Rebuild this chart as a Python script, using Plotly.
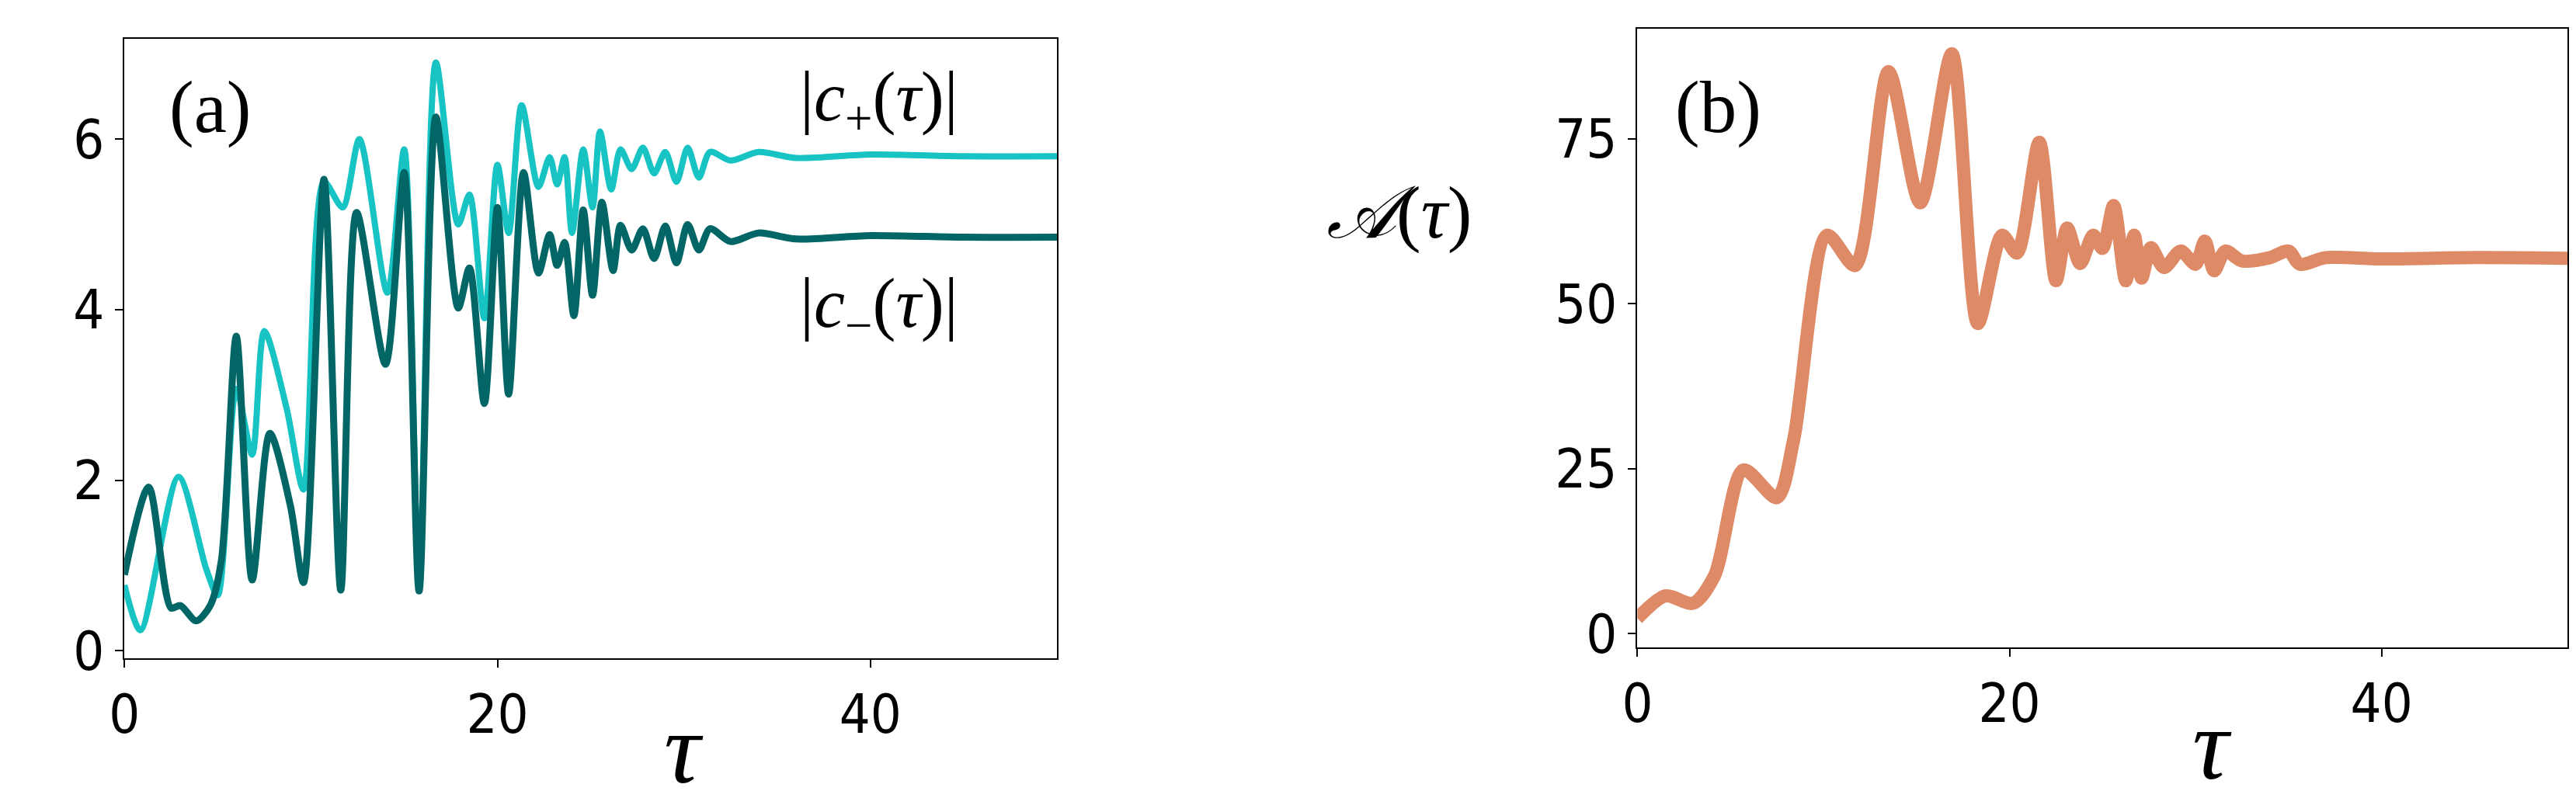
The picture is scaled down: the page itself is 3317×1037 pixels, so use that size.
import plotly.graph_objects as go

# Panel (a) data
tau_minus = [0, 1.3, 2.5, 3.0, 3.85, 4.6, 5.2, 6.0, 6.85, 7.8, 8.9, 9.6, 10.7, 11.6, 12.45, 14.0, 15.0, 15.8,
             16.7, 17.9, 18.5, 19.3, 20.0, 20.6, 21.4, 22.2, 22.8, 23.2, 23.6, 24.1, 24.6, 25.1, 25.6, 26.2, 26.6,
             27.2, 27.8, 28.4, 29.0, 29.6, 30.2, 30.8, 31.4, 32.5, 34, 36, 40, 45, 50]
c_minus = [0.89, 1.92, 0.5, 0.53, 0.35, 0.53, 1.06, 3.69, 0.83, 2.55, 1.7, 0.8, 5.53, 0.71, 5.14, 3.36, 5.61, 0.70,
           6.26, 4.02, 4.49, 2.9, 5.2, 3.01, 5.61, 4.43, 4.88, 4.52, 4.79, 3.93, 5.17, 4.17, 5.26, 4.46, 4.99,
           4.7, 4.95, 4.6, 4.98, 4.55, 5.0, 4.7, 4.95, 4.8, 4.9, 4.83, 4.87, 4.85, 4.85]
tau_plus = [0, 0.86, 2.9, 4.4, 5.0, 6.0, 6.85, 7.5, 8.7, 9.6, 10.7, 11.7, 12.6, 14.1, 15.0, 15.8, 16.7, 17.9,
            18.5, 19.3, 20.0, 20.6, 21.3, 22.2, 22.8, 23.2, 23.6, 24.0, 24.6, 25.1, 25.5, 26.1, 26.6,
            27.2, 27.8, 28.4, 29.0, 29.6, 30.2, 30.8, 31.4, 32.5, 34, 36, 40, 45, 50]
c_plus = [0.77, 0.24, 2.04, 0.95, 0.65, 3.07, 2.3, 3.75, 2.84, 1.89, 5.5, 5.2, 6.0, 4.2, 5.88, 0.75, 6.9, 5.0,
          5.35, 3.9, 5.7, 4.9, 6.4, 5.44, 5.79, 5.47, 5.79, 4.9, 5.88, 5.2, 6.09, 5.41, 5.88,
          5.65, 5.9, 5.6, 5.85, 5.5, 5.9, 5.55, 5.85, 5.75, 5.85, 5.78, 5.82, 5.8, 5.8]

# Panel (b) data
tau_b = [0, 1.5, 3.0, 4.15, 5.7, 7.5, 8.4, 10.2, 11.7, 13.5, 15.2, 16.9, 18.3, 19.6, 20.4, 21.6, 22.5, 23.1,
         23.8, 24.5, 25.0, 25.6, 26.25, 26.7, 27.1, 27.6, 28.3, 29.2, 30.0, 30.5, 31.0, 31.6, 32.5, 34.0, 35.0,
         35.6, 37, 40, 45, 50]
amp = [2.3, 5.7, 4.6, 8.8, 24.8, 20.6, 29.4, 60.4, 55.8, 85.2, 65.3, 87.9, 47.0, 60.4, 57.7, 74.5, 53.5, 61.5,
       56.1, 60.4, 58.4, 64.9, 53.5, 60.4, 53.9, 58.5, 55.5, 58.0, 56.0, 59.5, 55.0, 58.0, 56.5, 57.0, 58.0,
       56.0, 57.0, 56.8, 57.0, 56.9]

fig = go.Figure()
fig.add_trace(go.Scatter(x=tau_plus, y=c_plus, mode="lines", line=dict(color="#17c3c3", width=8, shape="spline", smoothing=0.8),
                         xaxis="x", yaxis="y", showlegend=False))
fig.add_trace(go.Scatter(x=tau_minus, y=c_minus, mode="lines", line=dict(color="#036666", width=9, shape="spline", smoothing=0.8),
                         xaxis="x", yaxis="y", showlegend=False))
fig.add_trace(go.Scatter(x=tau_b, y=amp, mode="lines", line=dict(color="#de8a66", width=17, shape="spline", smoothing=0.8),
                         xaxis="x2", yaxis="y2", showlegend=False))

tickfont = dict(family="DejaVu Sans Condensed, DejaVu Sans", size=70, color="black")
axcommon = dict(showline=True, linecolor="black", linewidth=2, mirror=True, ticks="outside", ticklen=10,
                tickwidth=2, tickcolor="black", showgrid=False, zeroline=False, tickfont=tickfont)

fig.update_layout(
    width=3317, height=1037, margin=dict(l=0, r=0, t=0, b=0),
    paper_bgcolor="white", plot_bgcolor="white",
    xaxis=dict(domain=[0.0401, 0.4043], range=[0, 50], tickvals=[0, 20, 40], anchor="y", **axcommon),
    yaxis=dict(domain=[0.1649, 0.9585], range=[-0.09, 7.18], tickvals=[0, 2, 4, 6], anchor="x", **axcommon),
    xaxis2=dict(domain=[0.631, 0.9943], range=[0, 50], tickvals=[0, 20, 40], anchor="y2", **axcommon),
    yaxis2=dict(domain=[0.1794, 0.9711], range=[-2.05, 91.7], tickvals=[0, 25, 50, 75], anchor="x2", **axcommon),
)

serif = "Liberation Serif, DejaVu Serif"
def ann(x, y, text, size):
    fig.add_annotation(x=x / 3317, y=1 - y / 1037, xref="paper", yref="paper", text=text, showarrow=False,
                       font=dict(family=serif, size=size, color="black"), xanchor="center", yanchor="middle")

ann(244, 134, "(a)", 95)
ann(2198, 134, "(b)", 95)
ann(1111, 127, "|<i>c</i><sub>+</sub>(<i>τ</i>)|", 90)
ann(1111, 401, "|<i>c</i><sub>−</sub>(<i>τ</i>)|", 90)
ann(858, 985, "<i>τ</i>", 130)
ann(2838, 980, "<i>τ</i>", 130)
ann(1784, 274, "<i>𝒜</i>(<i>τ</i>)", 95)

fig.write_html("out.html")
